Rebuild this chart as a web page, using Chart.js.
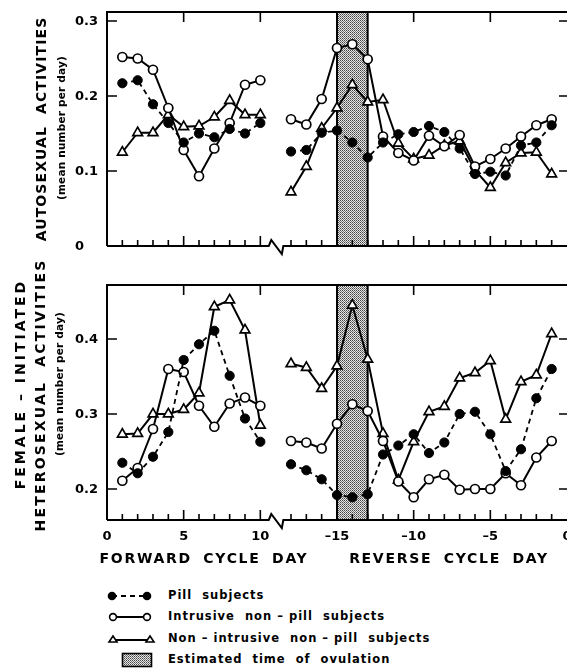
<!DOCTYPE html>
<html><head><meta charset="utf-8">
<script src="https://cdn.jsdelivr.net/npm/chart.js@4/dist/chart.umd.min.js"></script>
<style>
html,body{margin:0;padding:0;background:#fff;}
#wrap{position:relative;width:567px;height:669px;overflow:hidden;background:#fff;font-family:"DejaVu Sans",sans-serif;color:#000;}
canvas{position:absolute;left:0;}
.rot{position:absolute;white-space:nowrap;transform:translate(-50%,-50%) rotate(-90deg);font-weight:bold;line-height:1;}
.big{font-size:14px;letter-spacing:2.2px;}
.small{font-size:10.5px;letter-spacing:0.2px;}
.xt{position:absolute;white-space:nowrap;font-weight:bold;font-size:14px;letter-spacing:1.7px;word-spacing:5px;transform:translate(-50%,-50%);line-height:1;}
.lg{position:absolute;left:0;height:16px;width:567px;}
.lg svg{position:absolute;left:106px;top:0;}
.lg span{position:absolute;left:168px;top:50%;transform:translateY(-50%);font-weight:bold;font-size:11.5px;letter-spacing:1px;white-space:nowrap;line-height:1;}
</style></head>
<body>
<div id="wrap">
  <canvas id="c1" width="567" height="262" style="top:0"></canvas>
  <canvas id="c2" width="567" height="290" style="top:262px"></canvas>

  <div class="rot big" style="left:41px;top:129px;letter-spacing:1.1px">AUTOSEXUAL&nbsp; ACTIVITIES</div>
  <div class="rot small" style="left:61px;top:128px">(mean number per day)</div>

  <div class="rot big" style="left:20px;top:384px;letter-spacing:3px">FEMALE – INITIATED</div>
  <div class="rot big" style="left:40px;top:395px">HETEROSEXUAL&nbsp; ACTIVITIES</div>
  <div class="rot small" style="left:59px;top:384px">(mean number per day)</div>

  <div class="xt" style="left:204px;top:558px">FORWARD CYCLE DAY</div>
  <div class="xt" style="left:449px;top:558px">REVERSE CYCLE DAY</div>

  <div class="lg" style="top:588px">
    <svg width="50" height="16"><line x1="6" y1="8" x2="41" y2="8" stroke="#000" stroke-width="1.8" stroke-dasharray="5,4"/><circle cx="6" cy="8" r="4.3" fill="#000"/><circle cx="41" cy="8" r="4.3" fill="#000"/></svg>
    <span>Pill&nbsp; subjects</span>
  </div>
  <div class="lg" style="top:609px">
    <svg width="50" height="16"><line x1="7" y1="8" x2="41" y2="8" stroke="#000" stroke-width="2"/><circle cx="7" cy="8" r="3.4" fill="#fff" stroke="#000" stroke-width="1.6"/><circle cx="41" cy="8" r="3.4" fill="#fff" stroke="#000" stroke-width="1.6"/></svg>
    <span>Intrusive&nbsp; non – pill&nbsp; subjects</span>
  </div>
  <div class="lg" style="top:631px">
    <svg width="50" height="16"><line x1="7" y1="9" x2="44" y2="9" stroke="#000" stroke-width="2"/><polygon points="3,11 7,5 11,11" fill="#fff" stroke="#000" stroke-width="1.6"/><polygon points="40,11 44,5 48,11" fill="#fff" stroke="#000" stroke-width="1.6"/></svg>
    <span>Non – intrusive&nbsp; non – pill&nbsp; subjects</span>
  </div>
  <div class="lg" style="top:652px">
    <svg width="50" height="16"><defs><pattern id="stip" width="2" height="2" patternUnits="userSpaceOnUse"><rect width="2" height="2" fill="#e6e6e6"/><rect width="1" height="1" fill="#444"/><rect x="1" y="1" width="1" height="1" fill="#777"/></pattern></defs><rect x="16.5" y="1.5" width="29" height="13" fill="url(#stip)" stroke="#000" stroke-width="1.6"/></svg>
    <span>Estimated&nbsp; time&nbsp; of&nbsp; ovulation</span>
  </div>
</div>
<script>
// ---- data ----
const forwardDays = [1, 2, 3, 4, 5, 6, 7, 8, 9, 10];
const reverseDays = [-18, -17, -16, -15, -14, -13, -12, -11, -10, -9, -8, -7, -6, -5, -4, -3, -2, -1];
const forwardTickLabels = [0, 5, 10];
const reverseTickLabels = [-15, -10, -5, 0];
const ovulationDays = [-15, -13];
const autoYTicks = [0, 0.1, 0.2, 0.3];
const hetYTicks = [0.2, 0.3, 0.4];

// Autosexual activities (mean number per day)
const autoPillFwd = [0.217, 0.221, 0.189, 0.164, 0.138, 0.150, 0.145, 0.156, 0.150, 0.164];
const autoIntrFwd = [0.252, 0.250, 0.235, 0.184, 0.128, 0.093, 0.130, 0.164, 0.215, 0.221];
const autoNonFwd  = [0.125, 0.151, 0.151, 0.175, 0.159, 0.160, 0.172, 0.194, 0.175, 0.175];
const autoPillRev = [0.126, 0.128, 0.151, 0.154, 0.138, 0.118, 0.138, 0.149, 0.152, 0.160, 0.152, 0.130, 0.096, 0.099, 0.094, 0.134, 0.138, 0.161];
const autoIntrRev = [0.169, 0.162, 0.196, 0.264, 0.269, 0.249, 0.146, 0.124, 0.114, 0.147, 0.133, 0.148, 0.106, 0.116, 0.130, 0.146, 0.161, 0.169];
const autoNonRev  = [0.072, 0.106, 0.157, 0.184, 0.215, 0.192, 0.195, 0.137, 0.116, 0.121, 0.134, 0.140, 0.101, 0.078, 0.111, 0.124, 0.125, 0.096];

// Female-initiated heterosexual activities (mean number per day)
const hetPillFwd = [0.235, 0.221, 0.243, 0.276, 0.372, 0.393, 0.411, 0.351, 0.294, 0.263];
const hetIntrFwd = [0.211, 0.228, 0.280, 0.360, 0.356, 0.311, 0.283, 0.314, 0.322, 0.311];
const hetNonFwd  = [0.273, 0.274, 0.300, 0.300, 0.306, 0.328, 0.443, 0.452, 0.412, 0.285];
const hetPillRev = [0.233, 0.225, 0.213, 0.192, 0.189, 0.193, 0.246, 0.258, 0.273, 0.248, 0.262, 0.300, 0.303, 0.273, 0.224, 0.253, 0.321, 0.360];
const hetIntrRev = [0.264, 0.262, 0.254, 0.287, 0.313, 0.304, 0.264, 0.210, 0.189, 0.213, 0.219, 0.199, 0.200, 0.200, 0.221, 0.205, 0.242, 0.264];
const hetNonRev  = [0.367, 0.362, 0.334, 0.364, 0.445, 0.373, 0.274, 0.212, 0.263, 0.303, 0.310, 0.348, 0.355, 0.371, 0.293, 0.343, 0.352, 0.407];

// ---- axis mapping (broken axis: reverse day r plotted at r + REV_OFFSET) ----
const REV_OFFSET = 30;
const GAP_X = 11;
const fx = d => d;
const rx = d => d + REV_OFFSET;

function series(fwd, rev) {
  return forwardDays.map((d, i) => ({x: fx(d), y: fwd[i]}))
    .concat([{x: GAP_X, y: null}])
    .concat(reverseDays.map((d, i) => ({x: rx(d), y: rev[i]})));
}

function makeStipple(ctx) {
  const p = document.createElement('canvas');
  p.width = 2; p.height = 2;
  const c = p.getContext('2d');
  c.fillStyle = '#e6e6e6'; c.fillRect(0, 0, 2, 2);
  c.fillStyle = '#444'; c.fillRect(0, 0, 1, 1);
  c.fillStyle = '#777'; c.fillRect(1, 1, 1, 1);
  return ctx.createPattern(p, 'repeat');
}

const bandPlugin = {
  id: 'band',
  beforeDatasetsDraw(chart) {
    const {ctx, chartArea: a, scales: {x}} = chart;
    const x1 = x.getPixelForValue(rx(ovulationDays[0]));
    const x2 = x.getPixelForValue(rx(ovulationDays[1]));
    ctx.save();
    ctx.fillStyle = makeStipple(ctx);
    ctx.fillRect(x1, a.top, x2 - x1, a.bottom - a.top);
    ctx.strokeStyle = '#000';
    ctx.lineWidth = 2;
    ctx.beginPath();
    ctx.moveTo(x1, a.top); ctx.lineTo(x1, a.bottom);
    ctx.moveTo(x2, a.top); ctx.lineTo(x2, a.bottom);
    ctx.stroke();
    ctx.restore();
  }
};

const framePlugin = {
  id: 'frame',
  afterDatasetsDraw(chart, args, opts) {
    const {ctx, chartArea: a, scales: {x, y}} = chart;
    const L = a.left, R = a.right, T = a.top, B = a.bottom;
    ctx.save();
    ctx.strokeStyle = '#000';
    ctx.lineWidth = 2;
    ctx.lineCap = 'butt';
    ctx.lineJoin = 'miter';
    ctx.beginPath();
    ctx.moveTo(L, B); ctx.lineTo(L, T); ctx.lineTo(R, T);
    ctx.stroke();
    const bl = x.getPixelForValue(10.55), br = x.getPixelForValue(11.5);
    ctx.beginPath();
    ctx.moveTo(L, B); ctx.lineTo(bl, B);
    ctx.lineTo(bl + 2.5, B - 6);
    ctx.lineTo(br - 1.5, B + 8);
    ctx.lineTo(br, B);
    ctx.lineTo(R, B);
    ctx.stroke();
    ctx.lineWidth = 1.6;
    ctx.beginPath();
    forwardDays.forEach(d => {
      const px = x.getPixelForValue(fx(d));
      const len = d % 5 === 0 ? 10 : 6;
      ctx.moveTo(px, B); ctx.lineTo(px, B - len);
    });
    reverseDays.forEach(d => {
      const px = x.getPixelForValue(rx(d));
      const len = d % 5 === 0 ? 10 : 6;
      ctx.moveTo(px, B); ctx.lineTo(px, B - len);
    });
    forwardTickLabels.filter(d => d !== 0).forEach(d => {
      const px = x.getPixelForValue(fx(d));
      ctx.moveTo(px, T); ctx.lineTo(px, T + 10);
    });
    reverseTickLabels.filter(d => d !== 0).forEach(d => {
      const px = x.getPixelForValue(rx(d));
      ctx.moveTo(px, T); ctx.lineTo(px, T + 10);
    });
    opts.yTicks.forEach(v => {
      if (v <= y.min) return;
      const py = y.getPixelForValue(v);
      ctx.moveTo(L, py); ctx.lineTo(L + 10, py);
      ctx.moveTo(R - 8, py); ctx.lineTo(R, py);
    });
    ctx.stroke();
    ctx.fillStyle = '#000';
    ctx.font = 'bold 13px "DejaVu Sans"';
    ctx.textAlign = 'left';
    ctx.textBaseline = 'middle';
    opts.yTicks.forEach(v => {
      const py = y.getPixelForValue(v);
      const s = v === 0 ? '0' : v.toFixed(1);
      ctx.fillText(s, 75, py + 1);
    });
    if (opts.xLabels) {
      ctx.textAlign = 'center';
      ctx.textBaseline = 'middle';
      forwardTickLabels.forEach(d => {
        ctx.fillText(String(d), x.getPixelForValue(fx(d)), B + 17);
      });
      reverseTickLabels.forEach(d => {
        const s = d < 0 ? '\u2013' + Math.abs(d) : String(d);
        ctx.fillText(s, x.getPixelForValue(rx(d)), B + 17);
      });
    }
    ctx.restore();
  }
};

function datasets(pF, pR, iF, iR, nF, nR) {
  return [
    {label: 'Pill subjects', data: series(pF, pR), borderColor: '#000', borderWidth: 1.8, borderDash: [5, 4],
     pointStyle: 'circle', pointRadius: 4.6, pointBackgroundColor: '#000', pointBorderColor: '#000', pointBorderWidth: 1},
    {label: 'Intrusive non-pill subjects', data: series(iF, iR), borderColor: '#000', borderWidth: 2,
     pointStyle: 'circle', pointRadius: 4.5, pointBackgroundColor: '#fff', pointBorderColor: '#000', pointBorderWidth: 1.7},
    {label: 'Non-intrusive non-pill subjects', data: series(nF, nR), borderColor: '#000', borderWidth: 2,
     pointStyle: 'triangle', pointRadius: 5.6, pointBackgroundColor: '#fff', pointBorderColor: '#000', pointBorderWidth: 1.7}
  ];
}

function makeChart(id, ds, yMin, yMax, pad, yTicks, xLabels) {
  return new Chart(document.getElementById(id), {
    type: 'line',
    data: {datasets: ds},
    options: {
      responsive: false, animation: false, devicePixelRatio: 1,
      spanGaps: false,
      layout: {autoPadding: false, padding: pad},
      plugins: {legend: {display: false}, tooltip: {enabled: false},
        frame: {yTicks: yTicks, xLabels: xLabels}},
      scales: {
        x: {type: 'linear', min: 0, max: 30, display: false},
        y: {type: 'linear', min: yMin, max: yMax, display: false}
      },
      elements: {line: {tension: 0}}
    },
    plugins: [bandPlugin, framePlugin]
  });
}

makeChart('c1', datasets(autoPillFwd, autoPillRev, autoIntrFwd, autoIntrRev, autoNonFwd, autoNonRev),
  0, 0.312, {left: 107, right: 0, top: 12, bottom: 16}, autoYTicks, false);
makeChart('c2', datasets(hetPillFwd, hetPillRev, hetIntrFwd, hetIntrRev, hetNonFwd, hetNonRev),
  0.1587, 0.472, {left: 107, right: 0, top: 23, bottom: 32}, hetYTicks, true);
</script>
</body></html>
